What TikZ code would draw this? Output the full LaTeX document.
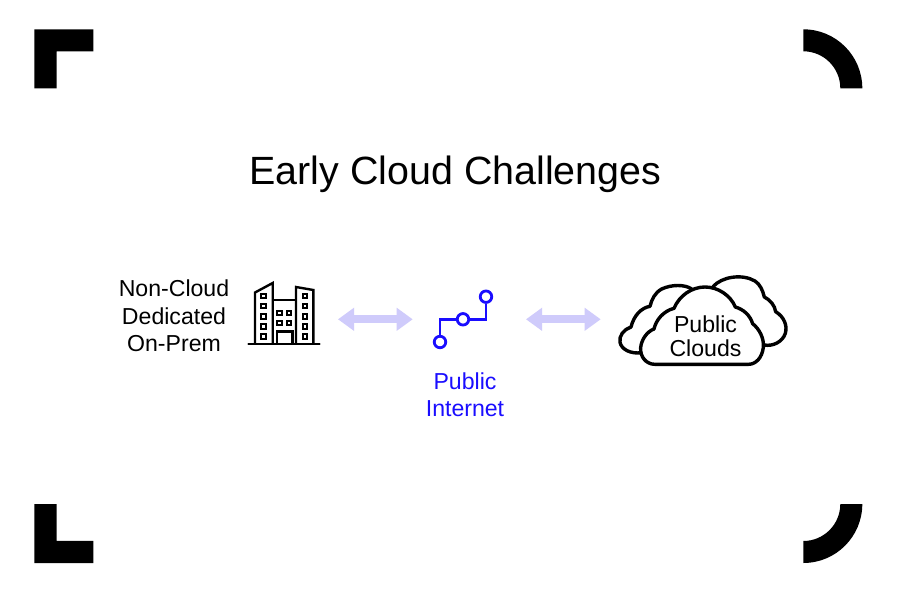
\documentclass[tikz,border=0pt]{standalone}
\usepackage{fontspec}
\setmainfont{Liberation Sans}
\usetikzlibrary{arrows.meta}
\definecolor{netblue}{HTML}{1A0DFF}
\definecolor{linkviolet}{HTML}{CFCBFB}
\tikzset{
  x=1pt,y=-1pt,
  frame/.style={fill=black,draw=none},
  bldg/.style={draw=black,line width=2.4pt,line join=miter,fill=none},
  win/.style={draw=black,line width=2.1pt,minimum size=0pt},
  link/.style={draw=linkviolet,line width=8pt,{Triangle[length=16pt,width=22pt]}-{Triangle[length=16pt,width=22pt]},shorten >=0pt,shorten <=0pt},
  trace/.style={draw=netblue,line width=2.8pt,line join=miter},
  via/.style={circle,draw=netblue,line width=2.8pt,fill=white,inner sep=0pt,minimum size=11.5pt},
  cloudline/.style={draw=black,line width=3.4pt,fill=white,line join=round},
  label/.style={align=center,inner sep=0pt,font=\fontsize{23.1}{27.5}\selectfont},
}
\begin{document}
\begin{tikzpicture}
\useasboundingbox (0,0) rectangle (900,600);
\fill[white] (0,0) rectangle (900,600);

% corner marks
\fill[frame] (34.3,29.3) -- (93.3,29.3) -- (93.3,51.3) -- (56.5,51.3) -- (56.5,88.3) -- (34.3,88.3) -- cycle;
\fill[frame] (34.3,504) -- (56.5,504) -- (56.5,540.8) -- (93.3,540.8) -- (93.3,563) -- (34.3,563) -- cycle;
\fill[frame] (803.3,29.3) arc[start angle=90,end angle=0,x radius=59,y radius=-59] -- (840.3,88.3) arc[start angle=0,end angle=90,x radius=37,y radius=-37] -- cycle;
\fill[frame] (862.3,504) arc[start angle=0,end angle=-90,x radius=59,y radius=-59] -- (803.3,541) arc[start angle=-90,end angle=0,x radius=37,y radius=-37] -- cycle;

\node[inner sep=0pt,font=\fontsize{39.4}{46}\selectfont] (title) at (455.5,174.5) {Early Cloud Challenges};

\node[label] (onprem) at (174,316) {Non-Cloud\\Dedicated\\On-Prem};

% office building
\draw[bldg,line cap=round] (248.5,344) -- (319.5,344);
\draw[bldg] (255,344) -- (255,292.5) -- (272.7,283) -- (272.7,344);
\draw[bldg] (296,344) -- (296,287) -- (313.3,290) -- (313.3,344);
\draw[bldg] (272.7,299.8) -- (296,299.8);
\draw[bldg] (276.8,344) -- (276.8,331.3) -- (292.3,331.3) -- (292.3,344);
\foreach \wy in {296,306,316.7,326.7,336.7}{
  \draw[win] (261,\wy-2.4) rectangle (265.8,\wy+2.4);
  \draw[win] (302.6,\wy-2.4) rectangle (307.4,\wy+2.4);
}
\foreach \wx in {279.3,289}\foreach \wy in {313,323}{
  \draw[win] (\wx-2.4,\wy-2.4) rectangle (\wx+2.4,\wy+2.4);
}

% double arrows either side of the network icon
\coordinate (linkAw) at (338,319.3);
\coordinate (linkAe) at (412.7,319.3);
\coordinate (linkBw) at (526,319.3);
\coordinate (linkBe) at (600.7,319.3);
\draw[link] (linkAw) -- (linkAe);
\draw[link] (linkBw) -- (linkBe);

% network icon
\node[via] (viaA) at (440,342) {};
\node[via] (viaB) at (463,319.3) {};
\node[via] (viaC) at (486,296.7) {};
\draw[trace] (viaA) -- (viaA |- viaB) -- (viaB);
\draw[trace] (viaB) -- (viaC |- viaB) -- (viaC);

\node[label,text=netblue] (internet) at (465,394.5) {Public\\Internet};

% three overlapping clouds
\begin{scope}[shift={(610,265)},x=0.3333pt,y=-0.3333pt]
  \draw[cloudline] (310,64) .. controls (335,36) and (395,25) .. (435,48)
    .. controls (450,58) and (458,75) .. (463,96)
    .. controls (480,104) and (495,122) .. (497,140)
    .. controls (522,155) and (533,182) .. (526,205)
    .. controls (518,230) and (490,245) .. (462,240) -- (300,200) -- cycle;
  \draw[cloudline] (245,72) .. controls (225,58) and (185,58) .. (155,72)
    .. controls (135,83) and (125,103) .. (120,124)
    .. controls (95,128) and (72,150) .. (63,186)
    .. controls (42,193) and (26,212) .. (30,232)
    .. controls (34,253) and (62,268) .. (96,263) -- (200,200) -- cycle;
  \draw[cloudline] (135,298)
    .. controls (108,298) and (90,275) .. (92,248)
    .. controls (94,225) and (110,200) .. (132,192)
    .. controls (138,165) and (160,138) .. (192,130)
    .. controls (208,92) and (245,66) .. (285,66)
    .. controls (325,66) and (362,92) .. (376,126)
    .. controls (400,133) and (420,150) .. (428,176)
    .. controls (448,192) and (463,220) .. (460,248)
    .. controls (456,278) and (438,298) .. (415,298) -- cycle;
\end{scope}
\node[align=center,inner sep=0pt,font=\fontsize{23.1}{24}\selectfont] (clouds) at (705.5,336.5) {Public\\Clouds};
\end{tikzpicture}
\end{document}
